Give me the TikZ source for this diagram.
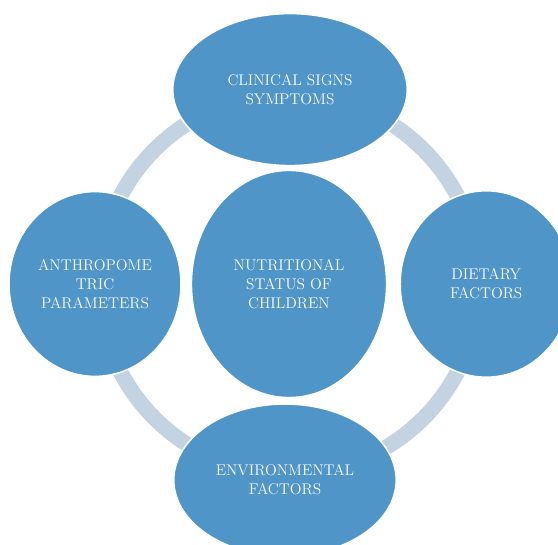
\documentclass[tikz,border=0pt]{standalone}
\usepackage{tikz}
\usetikzlibrary{shapes.geometric}

\definecolor{bubble}{HTML}{4F95C8}
\definecolor{ringgray}{HTML}{C3D3E1}

\tikzset{
    factor/.style={ellipse, fill=bubble, draw=white, line width=1.1pt,
        inner sep=0pt, text=white, align=center,
        font=\fontsize{11}{13.5}\selectfont},
    ring/.style={draw=ringgray, line width=11pt}
}

\begin{document}
\begin{tikzpicture}
    \useasboundingbox (-7.225,-6.5) rectangle (6.725,7.1);

    % ring behind the bubbles
    \coordinate (o) at (0,0);
    \draw[ring] (o) circle (4.75);

    % centre
    \node[factor, minimum width=4.88cm, minimum height=5.68cm] (hub) at (0,0)
        {NUTRITIONAL\\STATUS OF\\CHILDREN};

    % outer bubbles
    \node[factor, minimum width=5.86cm, minimum height=3.8cm] (signs) at (0.025,4.86)
        {CLINICAL SIGNS\\SYMPTOMS};
    \node[factor, minimum width=4.3cm, minimum height=4.66cm] (diet) at (4.93,0)
        {DIETARY\\FACTORS};
    \node[factor, minimum width=5.56cm, minimum height=3.8cm] (env) at (-0.1,-4.9)
        {ENVIRONMENTAL\\FACTORS};
    \node[factor, minimum width=4.3cm, minimum height=4.62cm] (anthro) at (-4.85,0)
        {ANTHROPOME\\TRIC\\PARAMETERS};

\end{tikzpicture}
\end{document}
